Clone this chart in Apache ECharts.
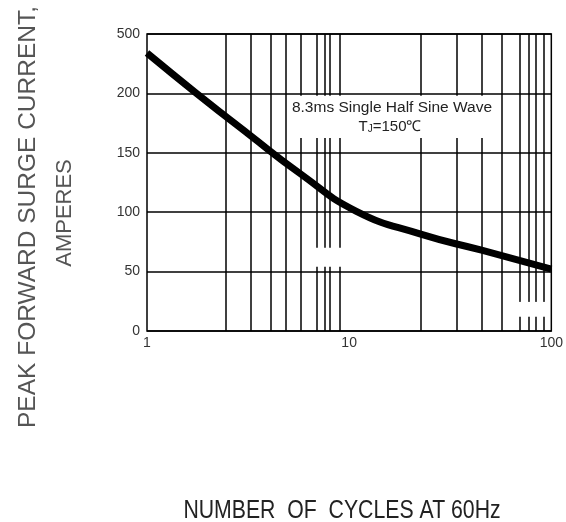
<!DOCTYPE html>
<html>
<head>
<meta charset="utf-8">
<script src="https://cdn.jsdelivr.net/npm/echarts@6/dist/echarts.min.js"></script>
<style>
html,body{margin:0;padding:0;background:#fff;}
#chart{width:566px;height:522px;}
</style>
</head>
<body>
<div id="chart"></div>
<script>
// Curve: number of cycles vs peak forward surge current (A)
const cycles = [1, 1.76, 3.22, 5.67, 10.8, 22.6, 45.2, 100];
const current = [234, 200, 165, 133, 101, 81.5, 68, 52];
// vertical grid lines as drawn in the reference
const xGridValues = [2.45, 3.25, 4.08, 4.84, 5.73, 6.88, 7.53, 8.06, 9.03, 22.6, 34.0, 45.2, 56.7, 69.5, 77.1, 83.4, 91.3];
const xTickLabels = {1: '1', 10: '10', 100: '100'};
const yTickLabels = ['0', '50', '100', '150', '200', '500'];
// white gaps breaking grid lines in the reference: [x1, x2, y1, y2]
const gaps = [[5.18, 51.8, 162.5, 198], [6.5, 9.55, 54, 70], [67.3, 95.5, 12, 24.5]];

const chart = echarts.init(document.getElementById('chart'));
const font = 'Liberation Sans, Arial, sans-serif';
chart.setOption({
  animation: false,
  backgroundColor: '#fff',
  grid: {left: 147, right: 13, top: 34, bottom: 191, show: true, borderColor: '#000', borderWidth: 1.5},
  xAxis: {
    type: 'log', logBase: 10, min: 1, max: 100,
    axisLine: {show: false}, axisTick: {show: false}, splitLine: {show: false},
    axisLabel: {
      color: '#333', fontSize: 14, fontFamily: font, margin: 5,
      formatter: v => xTickLabels[Math.round(v)] || ''
    }
  },
  yAxis: {
    type: 'value', min: 0, max: 250, interval: 50,
    axisLine: {show: false}, axisTick: {show: false},
    splitLine: {show: true, lineStyle: {color: '#000', width: 1.5}},
    axisLabel: {
      color: '#333', fontSize: 14, fontFamily: font, margin: 7,
      formatter: v => yTickLabels[Math.round(v / 50)]
    }
  },
  series: [
    {
      type: 'line', data: [], z: 1, silent: true,
      markLine: {
        z: 1, silent: true, symbol: 'none', animation: false,
        label: {show: false},
        lineStyle: {color: '#000', width: 1.5, type: 'solid'},
        data: xGridValues.map(v => ({xAxis: v}))
      }
    },
    {
      type: 'line', data: [], z: 2, silent: true,
      markArea: {
        z: 2, silent: true, animation: false,
        itemStyle: {color: '#fff', opacity: 1},
        data: gaps.map(g => [{xAxis: g[0], yAxis: g[2]}, {xAxis: g[1], yAxis: g[3]}])
      }
    },
    {
      type: 'line', z: 3, smooth: 0.5, symbol: 'none',
      lineStyle: {color: '#000', width: 7},
      data: cycles.map((c, i) => [c, current[i]])
    }
  ],
  graphic: [
    {type: 'text', z: 10, x: 392, y: 108,
     style: {text: '8.3ms Single Half Sine Wave', font: '15.5px ' + font, fill: '#222', align: 'center', verticalAlign: 'middle'}},
    {type: 'text', z: 10, x: 390, y: 127,
     style: {text: 'T{s|J}=150℃', font: '15px ' + font, fill: '#222', align: 'center', verticalAlign: 'middle',
             rich: {s: {fontSize: 10, fontFamily: font, fill: '#222', padding: [5, 0, 0, 0]}}}},
    {type: 'text', z: 10, x: 28, y: 217, rotation: Math.PI / 2,
     style: {text: 'PEAK FORWARD SURGE CURRENT,', font: '24.5px ' + font, fill: '#555', align: 'center', verticalAlign: 'middle'}},
    {type: 'text', z: 10, x: 65, y: 213, rotation: Math.PI / 2,
     style: {text: 'AMPERES', font: '22px ' + font, fill: '#555', align: 'center', verticalAlign: 'middle'}},
    {type: 'text', z: 10, x: 342, y: 511, scaleX: 0.85,
     style: {text: 'NUMBER  OF  CYCLES AT 60Hz', font: '25px ' + font, fill: '#222', align: 'center', verticalAlign: 'middle'}}
  ]
});
</script>
</body>
</html>
